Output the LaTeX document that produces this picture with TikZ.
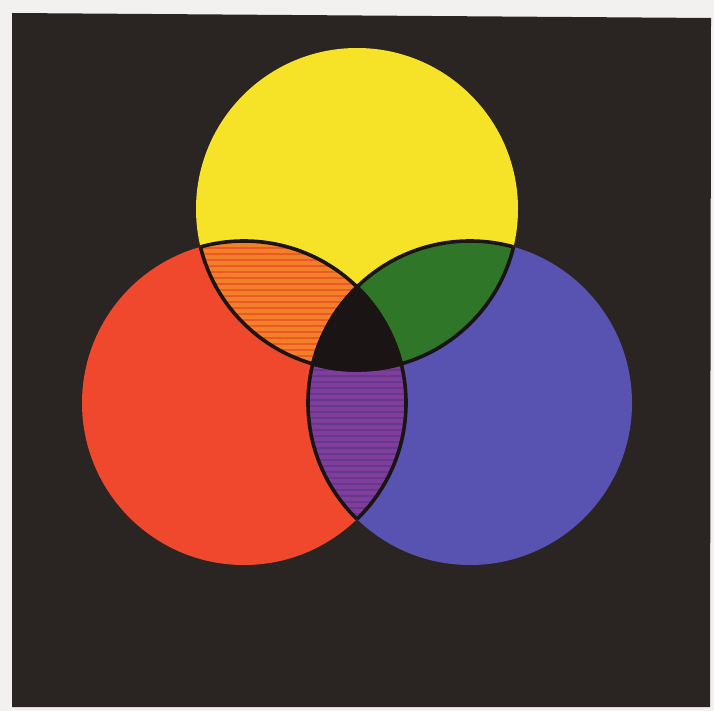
\documentclass[tikz,border=0pt]{standalone}
\begin{document}
\begin{tikzpicture}[x=1pt,y=-1pt]
\definecolor{paper}{RGB}{243,241,239}
\definecolor{bg}{RGB}{42,37,34}
\definecolor{yel}{RGB}{246,226,38}
\definecolor{redc}{RGB}{240,72,45}
\definecolor{bluec}{RGB}{88,82,176}
\definecolor{orng}{RGB}{242,128,40}
\definecolor{orngs}{RGB}{236,88,38}
\definecolor{grn}{RGB}{48,118,40}
\definecolor{purp}{RGB}{128,62,156}
\definecolor{purps}{RGB}{104,56,140}
\definecolor{core}{RGB}{26,20,20}
\tikzset{
  rim/.style={draw=core,line width=3.6pt},
  stripe/.style={line width=2.4pt}
}
\fill[paper] (0,0) rectangle (714,711);
\useasboundingbox (0,0) rectangle (714,711);
\fill[bg] (12,13) -- (711,18) -- (710,707) -- (12,707) -- cycle;
\coordinate (Y) at (357,209);
\coordinate (R) at (244,403);
\coordinate (B) at (470,403);
\def\cy{(Y) circle[radius=161pt]}
\def\cr{(R) circle[radius=162pt]}
\def\cb{(B) circle[radius=162pt]}
% base discs
\fill[redc] \cr;
\fill[bluec] \cb;
\fill[yel] \cy;
% pairwise overlaps
\begin{scope}
  \clip \cy;
  \fill[orng] \cr;
  \clip \cr;
  \foreach \k in {236,242,...,380} {\draw[stripe,orngs] (180,\k) -- (380,\k);}
\end{scope}
\begin{scope}
  \clip \cy;
  \fill[grn] \cb;
\end{scope}
\begin{scope}
  \clip \cr;
  \fill[purp] \cb;
  \clip \cb;
  \foreach \k in {280,286,...,525} {\draw[stripe,purps] (290,\k) -- (420,\k);}
\end{scope}
% triple overlap
\begin{scope}
  \clip \cy;
  \clip \cr;
  \fill[core] \cb;
\end{scope}
% inner outlines
\begin{scope}\clip \cr; \draw[rim] \cy; \end{scope}
\begin{scope}\clip \cb; \draw[rim] \cy; \end{scope}
\begin{scope}\clip \cy; \draw[rim] \cr; \end{scope}
\begin{scope}\clip \cb; \draw[rim] \cr; \end{scope}
\begin{scope}\clip \cy; \draw[rim] \cb; \end{scope}
\begin{scope}\clip \cr; \draw[rim] \cb; \end{scope}
\end{tikzpicture}
\end{document}
